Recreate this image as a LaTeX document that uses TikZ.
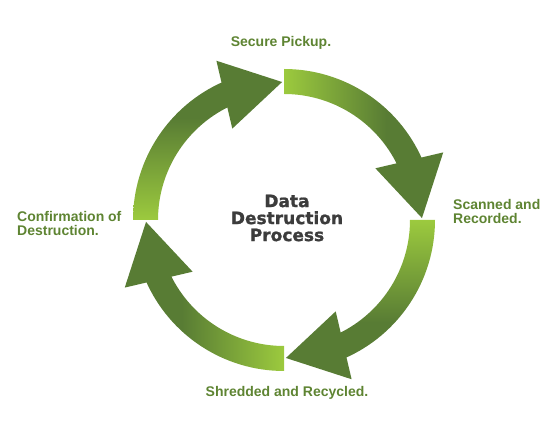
\documentclass[tikz,border=0pt]{standalone}
\usepackage{fontspec}
\setmainfont{Liberation Sans}
\newfontfamily\titlefont[BoldFeatures={FakeBold=1.2}]{DejaVu Sans}
\usepackage{tikz}
\usetikzlibrary{positioning}

\definecolor{lightg}{RGB}{156,202,62}
\definecolor{darkg}{RGB}{88,124,52}
\definecolor{labelg}{RGB}{94,132,50}
\definecolor{titlegray}{RGB}{60,60,60}
\pgfdeclarehorizontalshading{shaftshade}{100bp}{color(0bp)=(lightg); color(25bp)=(lightg); color(62bp)=(darkg); color(100bp)=(darkg)}

\begin{document}
\begin{tikzpicture}
  [x=1pt,y=1pt,
  every node/.style={inner sep=0pt},
  stagetext/.style={font=\bfseries\fontsize{14}{14}\selectfont,text=labelg},
  titletext/.style={font=\titlefont\bfseries\fontsize{17}{17}\selectfont,text=titlegray}]

\useasboundingbox (0,0) rectangle (560,444);
\coordinate (c) at (284,224);

% four curved arrows, clockwise
\foreach \a in {90,0,-90,-180}{
  \pgfmathsetmacro\s{\a-90}
  \shade[shading=shaftshade,shading angle=\s,shift={(c)}]
    (\a:151) arc[start angle=\a,end angle=\a-66.5,radius=151]
    -- (\a-64:126) arc[start angle=\a-64,end angle=\a,radius=126] -- cycle;
  \fill[darkg,shift={(c)}] (\a-67:173) -- (\a-89.2:138) -- (\a-60.5:105) -- cycle;
}

\node[stagetext,anchor=base] (pickup) at (281,397) {Secure Pickup.};
\node[stagetext,anchor=base west,align=left] (scanned) at (453,220) {Scanned and\\Recorded.};
\node[stagetext,anchor=base] (shredded) at (287,47) {Shredded and Recycled.};
\node[stagetext,anchor=base west,align=left] (confirm) at (17,208) {Confirmation of\\Destruction.};
\node[titletext,align=center] (title) at (287,226) {Data\\Destruction\\Process};
\end{tikzpicture}
\end{document}
